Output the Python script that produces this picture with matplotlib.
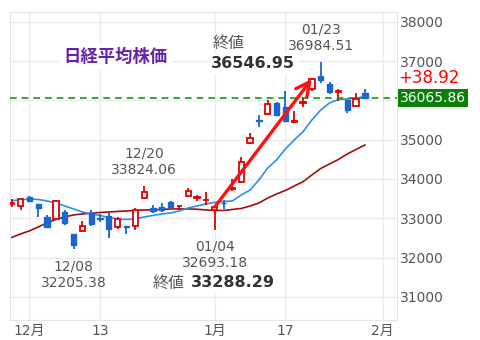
import numpy as np
import matplotlib.pyplot as plt
from matplotlib.transforms import blended_transform_factory

# =========================
# fonts
# =========================
plt.rcParams['font.family'] = ['DejaVu Sans', 'Noto Sans CJK JP']

# =========================
# data (日経平均 2023/11/29 - 2024/01/30)
# =========================
days = ['11/29', '11/30', '12/01', '12/04', '12/05', '12/06', '12/07', '12/08', '12/11', '12/12',
        '12/13', '12/14', '12/15', '12/18', '12/19', '12/20', '12/21', '12/22', '12/25', '12/26',
        '12/27', '12/28', '12/29', '01/04', '01/05', '01/09', '01/10', '01/11', '01/12', '01/15',
        '01/16', '01/17', '01/18', '01/19', '01/22', '01/23', '01/24', '01/25', '01/26', '01/29',
        '01/30']
slot_days = days + ['01/31', '02/01']

opens = [33370, 33310, 33540, 33355, 33020, 32975, 33150, 32600, 32680, 33140,
         33010, 33060, 32790, 32800, 32800, 33510, 33270, 33280, 33420, 33310,
         33575, 33520, 33460, 33210, 33400, 33740, 33930, 34905, 35510, 35650,
         35925, 35840, 35440, 35930, 36280, 36620, 36410, 36220, 36010, 35860, 36180]
highs = [33480, 33500, 33560, 33370, 33080, 33460, 33200, 32610, 32940, 33200,
         33110, 33130, 33030, 32800, 33250, 33824.06, 33330, 33380, 33440, 33320,
         33780, 33600, 33680, 33300, 33460, 33990, 34560, 35180, 35630, 36010,
         35960, 36250, 35730, 36090, 36560, 36984.51, 36480, 36290, 36020, 36180, 36280]
lows = [33290, 33210, 33420, 33040, 32745, 32960, 32820, 32205.38, 32660, 32800,
        32900, 32500, 32730, 32600, 32700, 33490, 33130, 33170, 33280, 33220,
        33570, 33440, 33340, 32693.18, 33240, 33700, 33900, 34880, 35330, 35620,
        35620, 35470, 35420, 35840, 36250, 36440, 36160, 35990, 35690, 35840, 36030]
closes = [33390, 33487, 33432, 33250, 32776, 33446, 32870, 32308, 32792, 32844,
          32990, 32720, 32980, 32780, 33219, 33676, 33185, 33200, 33290, 33320,
          33681, 33530, 33464, 33288.29, 33377, 33763, 34442, 35050, 35480, 35902,
          35619, 35478, 35466, 35963, 36546.95, 36517.57, 36226, 36236, 35751, 36026.94,
          36065.86]

# 移動平均線
ma_short = [33448, 33466, 33491, 33478, 33440, 33389, 33313, 33237, 33160, 33109,
            33071, 33020, 32982, 32969, 32982, 33033, 33071, 33109, 33135, 33186,
            33262, 33313, 33364, 33402, 33427, 33440, 33593, 33720, 33975, 34280,
            34484, 34764, 34993, 35204, 35502, 35756, 35934, 36023, 36036, 36061, 36095]
ma_long = [32511, 32600, 32677, 32778, 32880, 32969, 33033, 33084, 33109, 33127,
           33147, 33160, 33173, 33186, 33198, 33211, 33216, 33224, 33237, 33237,
           33237, 33229, 33211, 33198, 33198, 33224, 33249, 33313, 33389, 33516,
           33618, 33707, 33822, 33931, 34102, 34267, 34382, 34496, 34636, 34751, 34865]

change = '+38.92'
y_ticks = [31000, 32000, 33000, 34000, 35000, 36000, 37000, 38000]
tick_days = ['12/01', '12/13', '01/04', '01/17', '02/01']
tick_labels = ['12月', '13', '1月', '17', '2月']

# =========================
# colours
# =========================
RED = '#e00000'
BLUE = '#1a66cc'
GRAY = '#555555'

# =========================
# figure
# =========================
fig = plt.figure(figsize=(4.8, 3.4), dpi=100)
ax = fig.add_axes([9.5 / 480, 1 - 320 / 340, 387 / 480, 308 / 340])

x = np.arange(len(days))
o = np.array(opens)
c = np.array(closes)
h = np.array(highs)
l = np.array(lows)
up = c >= o

# moving averages
ax.plot(x, ma_long, color='#a01010', lw=1.2, zorder=2)
ax.plot(x, ma_short, color='#2a90f0', lw=1.2, zorder=2)

# candles
cols = np.where(up, RED, BLUE)
ax.vlines(x, l, h, colors=cols, lw=1.3, zorder=3)
bb = np.minimum(o, c)
bh = np.maximum(np.abs(c - o), 8)
ax.bar(x[up], bh[up], bottom=bb[up], width=0.6, facecolor='white',
       edgecolor=RED, lw=1.3, zorder=4)
ax.bar(x[~up], bh[~up], bottom=bb[~up], width=0.6, facecolor=BLUE,
       edgecolor=BLUE, lw=1.0, zorder=4)

# last close line
last = closes[-1]
ax.axhline(last, color='#119911', lw=1.2, dashes=(4, 3), zorder=3)

# arrow 1/04 -> 1/22
i_from = days.index('01/04')
i_to = days.index('01/22')
ax.annotate('', xy=(i_to, closes[i_to]), xytext=(i_from, closes[i_from]),
            arrowprops=dict(arrowstyle='->, head_length=1.0, head_width=0.5',
                            color='#ff1010', lw=2.4, shrinkA=0, shrinkB=0),
            zorder=5)

# axes
ax.set_xlim(-0.25, 43.58)
ax.set_ylim(30410, 38250)
ax.set_yticks(y_ticks)
# the 36000 label sits under the last-close box
ax.set_yticklabels(['' if abs(t - last) < 300 else str(t) for t in y_ticks])
ax.yaxis.tick_right()
ax.set_xticks([slot_days.index(d) for d in tick_days])
ax.set_xticklabels(tick_labels)
ax.tick_params(axis='y', length=0, pad=2.5, colors=GRAY, labelsize=10)
ax.tick_params(axis='x', length=0, pad=3, colors=GRAY, labelsize=10)
ax.grid(color='#ebebeb', lw=1)
ax.set_axisbelow(True)
for s in ax.spines.values():
    s.set_color('#e4e4e4')

# =========================
# labels
# =========================
ax.text(5.8, 37105, '日経平均株価', fontsize=12.5, fontweight='bold', color='#6622aa',
        va='center', ha='left',
        bbox=dict(facecolor='white', edgecolor='none', pad=2.5), zorder=6)

ax.text(15, 34445, '12/20\n33824.06', ha='center', va='center', fontsize=10,
        color=GRAY, linespacing=1.25)
ax.text(7, 31570, '12/08\n32205.38', ha='center', va='center', fontsize=10,
        color=GRAY, linespacing=1.25)
ax.text(23, 32066, '01/04\n32693.18', ha='center', va='center', fontsize=10,
        color=GRAY, linespacing=1.25)
ax.text(35, 37588, '01/23\n36984.51', ha='center', va='center', fontsize=10,
        color=GRAY, linespacing=1.25)

ax.text(15.9, 31353, '終値', ha='left', va='center', fontsize=11.5, color=GRAY,
        bbox=dict(facecolor='white', edgecolor='none', pad=1.5), zorder=6)
ax.text(20.3, 31353, '33288.29', ha='left', va='center', fontsize=11.5,
        fontweight='bold', color='#333333',
        bbox=dict(facecolor='white', edgecolor='none', pad=1.5), zorder=6)

ax.text(22.7, 37461, '終値', ha='left', va='center', fontsize=11.5, color=GRAY)
ax.text(22.6, 36927, '36546.95', ha='left', va='center', fontsize=11.5,
        fontweight='bold', color='#333333',
        bbox=dict(facecolor='white', edgecolor='none', pad=2), zorder=6)

tr = blended_transform_factory(ax.transAxes, ax.transData)
ax.text(1.005, 36570, change, transform=tr, ha='left', va='center',
        fontsize=12, color='#ff0000')
ax.text(1.008, last, f'{last:.2f}', transform=tr, ha='left', va='center',
        fontsize=10, color='white',
        bbox=dict(facecolor='#0a7f0a', edgecolor='none', pad=1.5))

fig.savefig('out.png', dpi=100)
